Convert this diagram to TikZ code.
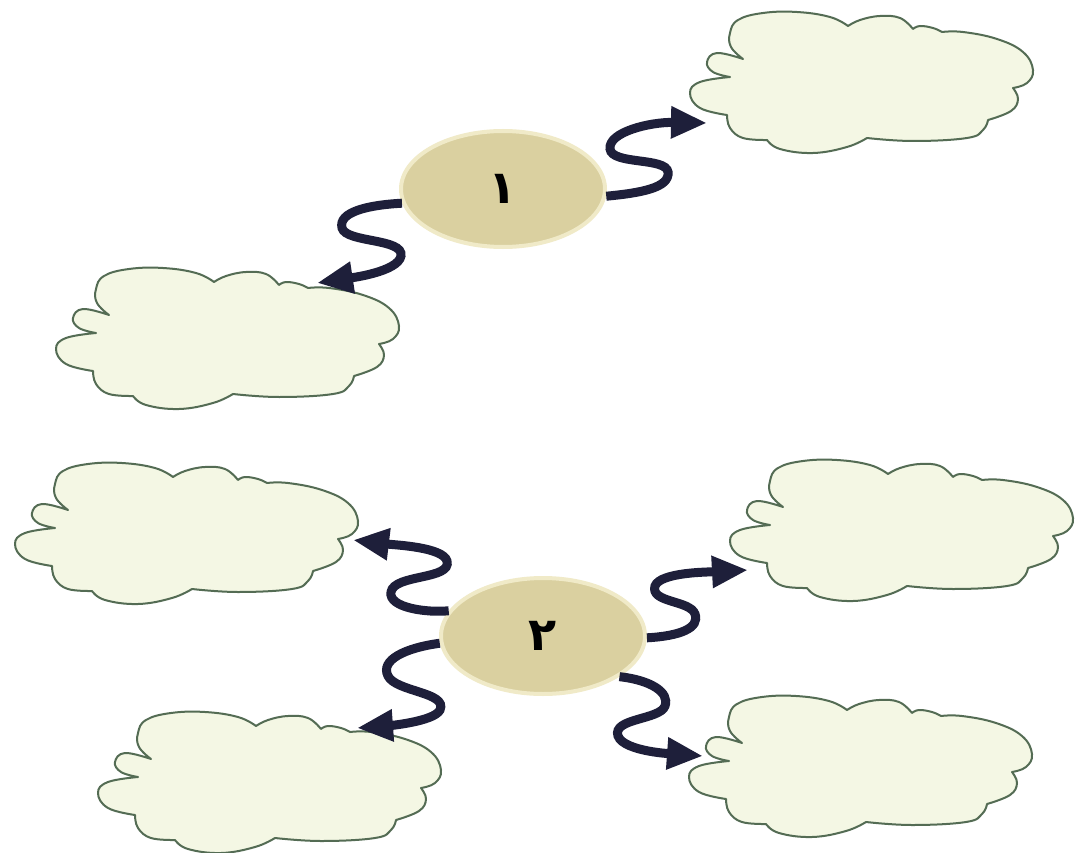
\documentclass[tikz,border=0pt]{standalone}
\usepackage{fontspec}
\usetikzlibrary{shapes.geometric,arrows.meta}
\TeXXeTstate=1
\newfontfamily\arabicfont[Script=Arabic]{DejaVu Sans}
\definecolor{cloudfill}{RGB}{244,247,228}
\definecolor{cloudline}{RGB}{84,108,84}
\definecolor{discfill}{RGB}{218,208,160}
\definecolor{discring}{RGB}{240,234,200}
\definecolor{wave}{RGB}{30,31,58}
\tikzset{
  cloudpath/.style={fill=cloudfill, draw=cloudline, line width=2pt, line join=round},
  lobe/.style={smooth, tension=0.7},
  discnode/.style={ellipse, fill=discfill, draw=discring, line width=4pt,
    minimum width=204pt, minimum height=116pt, inner sep=0pt, text=black,
    font=\arabicfont\bfseries\fontsize{46}{52}\selectfont},
  wavy/.style={draw=wave, line width=9pt, -{Triangle[length=36pt,width=30pt]}},
  cloudbox/.style={inner sep=0pt, minimum width=343pt, minimum height=139pt}
}
\newcommand\drawcloud[2]{%
  \node[cloudbox] (#1) at (#2) {};
  \begin{scope}[shift={(#2)}, yscale=-1]
    \path[cloudpath] (-119,23)
      -- plot[lobe] coordinates {(-119,23) (-131,35) (-132,49) (-124,62) (-99,69) (-65,70) (-32,65) (-14,56)}
      -- plot[lobe] coordinates {(-14,56) (-2,62) (18,66) (38,64) (51,53)}
      -- plot[lobe] coordinates {(51,53) (58,56) (71,54) (80,50)}
      -- plot[lobe] coordinates {(80,50) (101,50) (135,43) (161,30) (171,12) (165,-1) (151,-6)}
      -- plot[lobe] coordinates {(151,-6) (156,-17) (149,-29) (126,-38)}
      -- plot[lobe] coordinates {(126,-38) (121,-48) (105,-56) (51,-59) (5,-56)}
      -- plot[lobe] coordinates {(5,-56) (-15,-65) (-49,-71) (-82,-67) (-95,-58)}
      -- plot[lobe] coordinates {(-95,-58) (-119,-56) (-132,-46) (-135,-33)}
      -- plot[lobe] coordinates {(-135,-33) (-162,-26) (-172,-11) (-162,0) (-132,5)}
      -- plot[lobe] coordinates {(-132,5) (-149,10) (-155,20) (-145,29) (-119,23)}
      -- cycle;
  \end{scope}}
\begin{document}
\begin{tikzpicture}[x=1pt, y=1pt, yscale=-1]
  \useasboundingbox (0,0) rectangle (1076,853);
  \fill[white] (0,0) rectangle (1076,853);

  \drawcloud{cl1}{862,82}
  \drawcloud{cl2}{228,338}
  \drawcloud{cl3}{187,533}
  \drawcloud{cl4}{902,530}
  \drawcloud{cl5}{270,782}
  \drawcloud{cl6}{861,766}

  \node[discnode] (c1) at (503,189) {\beginR ۱\endR};
  \node[discnode] (c2) at (543,636) {\beginR ۲\endR};

  \coordinate (t1) at (707,123);
  \coordinate (t2) at (317,283);
  \coordinate (t3) at (353,540);
  \coordinate (t4) at (357,728);
  \coordinate (t5) at (748,570);
  \coordinate (t6) at (703,756);

  \draw[wavy] (c1.-4) .. controls (640,193) and (670,188) .. (668,172)
     .. controls (666,157) and (612,165) .. (610,149)
     .. controls (608,132) and (650,122) .. (t1);
  \draw[wavy] (c1.188) .. controls (368,205) and (338,212) .. (342,228)
     .. controls (346,243) and (404,238) .. (401,256)
     .. controls (398,272) and (350,278) .. (t2);
  \draw[wavy] (c2.165) .. controls (428,613) and (388,608) .. (391,592)
     .. controls (394,574) and (452,580) .. (447,561)
     .. controls (443,547) and (395,545) .. (t3);
  \draw[wavy] (c2.184) .. controls (405,648) and (380,660) .. (388,676)
     .. controls (396,692) and (448,692) .. (440,710)
     .. controls (434,722) and (385,726) .. (t4);
  \draw[wavy] (c2.-1) .. controls (680,636) and (700,628) .. (695,614)
     .. controls (690,600) and (650,603) .. (655,586)
     .. controls (660,572) and (710,572) .. (t5);
  \draw[wavy] (c2.-28) .. controls (650,680) and (670,692) .. (665,706)
     .. controls (660,720) and (612,718) .. (618,736)
     .. controls (624,752) and (675,754) .. (t6);
\end{tikzpicture}
\end{document}
